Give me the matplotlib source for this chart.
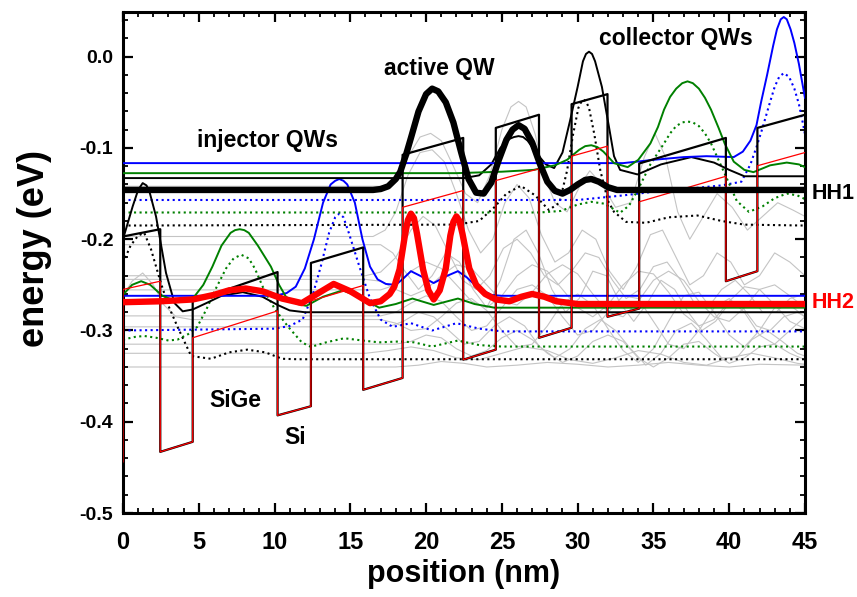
import matplotlib
matplotlib.use('Agg')
import matplotlib.pyplot as plt
from matplotlib.ticker import MultipleLocator

# ---- band edges (layer corners, nm / eV) ----
pot_x = [0, 0, 2.46, 2.46, 4.6, 4.6, 10.2, 10.2, 12.4, 12.4, 15.85, 15.85, 18.45, 18.45,
         22.45, 22.45, 24.6, 24.6, 27.45, 27.45, 29.6, 29.6, 31.97, 31.97, 34.06, 34.06,
         39.78, 39.78, 41.86, 41.86, 45]
hh_band = [-0.444, -0.197, -0.189, -0.433, -0.422, -0.268, -0.236, -0.393, -0.383, -0.226,
           -0.209, -0.365, -0.352, -0.1075, -0.089, -0.332, -0.321, -0.078, -0.0636, -0.308,
           -0.297, -0.052, -0.041, -0.285, -0.276, -0.117, -0.089, -0.246, -0.235, -0.078, -0.0636]
lh_band = [-0.444, -0.255, -0.246, -0.433, -0.422, -0.308, -0.2785, -0.393, -0.383, -0.2675,
           -0.2507, -0.365, -0.352, -0.165, -0.1466, -0.332, -0.321, -0.1357, -0.1228, -0.308,
           -0.297, -0.109, -0.098, -0.285, -0.276, -0.159, -0.131, -0.246, -0.235, -0.1195, -0.105]

# ---- HH1 / HH2 ----
hh1_x = [0, 16.5, 17.0, 17.5, 18.0, 18.3, 18.7, 19.0, 19.5, 20.0, 20.4, 20.8, 21.3, 21.8, 22.3,
         22.8, 23.3, 23.8, 24.3, 24.8, 25.3, 25.7, 26.1, 26.5, 27.0, 27.5, 28.0, 28.5, 29.0,
         29.5, 30.0, 30.5, 30.9, 31.4, 32.0, 32.6, 45]
hh1_e = [-0.146, -0.146, -0.145, -0.142, -0.134, -0.126, -0.106, -0.089, -0.060, -0.041, -0.035,
         -0.038, -0.050, -0.072, -0.104, -0.134, -0.149, -0.150, -0.138, -0.113, -0.091, -0.080,
         -0.075, -0.079, -0.094, -0.117, -0.137, -0.147, -0.150, -0.146, -0.140, -0.135, -0.134,
         -0.137, -0.143, -0.146, -0.146]

hh2_x = [0, 2.5, 4.6, 6.0, 7.0, 8.1, 9.2, 10.5, 11.8, 12.9, 13.9, 15.0, 16.3, 17.0, 17.6, 17.9,
         18.25, 18.6, 18.8, 19.0, 19.2, 19.4, 19.8, 20.15, 20.5, 20.9, 21.3, 21.6, 21.8, 22.0,
         22.2, 22.4, 22.85, 23.3, 23.9, 24.6, 25.5, 26.3, 27.0, 27.8, 28.6, 30.0, 45]
hh2_e = [-0.269, -0.268, -0.266, -0.261, -0.256, -0.254, -0.257, -0.265, -0.270, -0.259, -0.249,
         -0.257, -0.270, -0.268, -0.260, -0.252, -0.233, -0.196, -0.179, -0.172, -0.177, -0.194,
         -0.233, -0.256, -0.266, -0.256, -0.232, -0.196, -0.181, -0.175, -0.180, -0.194, -0.232,
         -0.250, -0.260, -0.266, -0.268, -0.263, -0.260, -0.263, -0.268, -0.271, -0.271]

# ---- injector states ----
binj_x = [0, 10.0, 10.8, 11.4, 12.0, 12.6, 13.2, 13.7, 14.0, 14.27, 14.55, 14.8, 15.3, 15.8, 16.3,
          16.8, 17.35, 18.0, 18.5, 19.0, 19.6, 20.5, 21.4, 22.1, 22.7, 23.4, 24.3, 25.0, 45]
binj_e = [-0.262, -0.262, -0.259, -0.252, -0.232, -0.200, -0.160, -0.140, -0.136, -0.134, -0.136,
          -0.140, -0.160, -0.200, -0.230, -0.244, -0.249, -0.250, -0.243, -0.235, -0.240, -0.248,
          -0.240, -0.235, -0.242, -0.253, -0.261, -0.262, -0.262]
bdinj_x = [0, 10.0, 11.0, 11.85, 12.5, 13.05, 13.6, 14.0, 14.27, 14.55, 14.9, 15.6, 16.3, 17.0,
           17.8, 19.0, 20.4, 22.0, 23.5, 25.0, 45]
bdinj_e = [-0.300, -0.298, -0.295, -0.288, -0.262, -0.230, -0.193, -0.176, -0.172, -0.176, -0.193,
           -0.230, -0.265, -0.288, -0.296, -0.292, -0.300, -0.292, -0.298, -0.301, -0.301]

ginj_x = [0, 0.6, 1.2, 1.8, 2.6, 3.7, 4.7, 5.3, 5.9, 6.5, 7.1, 7.4, 7.7, 8.0, 8.3, 8.9, 9.76, 10.3,
          10.75, 11.5, 12.1, 13.2, 14.5, 15.7, 16.9, 18.0, 19.1, 20.5, 22.1, 23.2, 24.5, 45]
ginj_e = [-0.261, -0.250, -0.246, -0.250, -0.262, -0.269, -0.263, -0.250, -0.230, -0.207, -0.193,
          -0.190, -0.189, -0.190, -0.193, -0.207, -0.230, -0.250, -0.263, -0.271, -0.273, -0.263,
          -0.256, -0.264, -0.275, -0.271, -0.265, -0.272, -0.265, -0.271, -0.275, -0.275]
gdinj_x = [0, 0.8, 1.4, 2.2, 3.0, 3.6, 4.3, 4.9, 5.5, 6.1, 6.8, 7.3, 7.8, 8.3, 8.7, 9.3, 10.0,
           10.9, 11.8, 12.4, 13.4, 14.6, 15.8, 16.9, 18.3, 19.2, 20.4, 22.1, 23.5, 25.0, 45]
gdinj_e = [-0.310, -0.307, -0.306, -0.308, -0.311, -0.310, -0.304, -0.296, -0.277, -0.255, -0.232,
           -0.221, -0.217, -0.221, -0.232, -0.255, -0.276, -0.296, -0.313, -0.318, -0.313, -0.3085,
           -0.311, -0.313, -0.312, -0.313, -0.3176, -0.311, -0.316, -0.3176, -0.3176]

kinj_x = [0, 0.64, 1.0, 1.3, 1.55, 1.75, 2.18, 2.5, 2.84, 3.4, 3.94, 4.6, 5.5, 6.5, 7.9, 9.2, 10.2,
          11.0, 12.0, 45]
kinj_e = [-0.200, -0.164, -0.146, -0.1385, -0.141, -0.148, -0.175, -0.205, -0.237, -0.270, -0.279,
          -0.277, -0.270, -0.262, -0.258, -0.263, -0.272, -0.278, -0.280, -0.280]
kdinj_x = [0, 0.5, 1.0, 1.4, 1.85, 2.5, 3.0, 3.6, 4.5, 5.8, 7.0, 8.2, 9.4, 10.5, 11.5, 45]
kdinj_e = [-0.226, -0.207, -0.196, -0.193, -0.211, -0.248, -0.273, -0.296, -0.328, -0.331, -0.324,
           -0.321, -0.324, -0.331, -0.3315, -0.3315]

# ---- collector states ----
bcol_x = [0, 33.0, 35.0, 37.0, 38.5, 40.3, 40.9, 41.4, 41.8, 42.1, 42.5, 42.9, 43.15, 43.4, 43.6,
          43.8, 44.05, 44.3, 44.6, 44.9, 45]
bcol_e = [-0.1166, -0.1166, -0.113, -0.110, -0.109, -0.110, -0.104, -0.092, -0.075, -0.050, -0.020,
          0.012, 0.030, 0.041, 0.0435, 0.041, 0.030, 0.015, -0.008, -0.036, -0.045]
bdcol_x = [0, 30.0, 33.0, 35.5, 37.7, 39.5, 40.8, 41.4, 41.8, 42.2, 42.6, 43.0, 43.3, 43.6, 43.95,
           44.3, 44.6, 44.9, 45]
bdcol_e = [-0.157, -0.157, -0.152, -0.147, -0.144, -0.141, -0.137, -0.118, -0.099, -0.078, -0.055,
           -0.033, -0.022, -0.018, -0.022, -0.035, -0.052, -0.076, -0.085]

gcol_x = [0, 22.0, 25.0, 27.1, 28.5, 29.3, 30.1, 30.5, 30.9, 31.3, 31.7, 32.4, 33.3, 34.0, 34.8,
          35.3, 35.7, 36.1, 36.5, 36.9, 37.25, 37.6, 38.0, 38.4, 38.8, 39.3, 39.7, 40.3, 41.0,
          41.6, 42.7, 43.8, 44.6, 45]
gcol_e = [-0.1276, -0.1276, -0.126, -0.124, -0.119, -0.113, -0.102, -0.098, -0.097, -0.099, -0.104,
          -0.1166, -0.121, -0.113, -0.095, -0.077, -0.058, -0.044, -0.035, -0.029, -0.027, -0.029,
          -0.035, -0.045, -0.058, -0.078, -0.095, -0.115, -0.124, -0.1265, -0.119, -0.116, -0.118,
          -0.121]
gdcol_x = [0, 27.5, 28.9, 30.0, 30.9, 31.75, 32.8, 33.4, 34.0, 34.8, 35.7, 36.1, 36.5, 36.9, 37.25,
           37.6, 38.0, 38.4, 38.8, 39.7, 40.5, 41.3, 42.2, 43.0, 43.8, 44.5, 45]
gdcol_e = [-0.1707, -0.1707, -0.169, -0.162, -0.159, -0.161, -0.171, -0.163, -0.145, -0.118, -0.095,
           -0.084, -0.076, -0.072, -0.071, -0.072, -0.076, -0.084, -0.095, -0.128, -0.158, -0.170,
           -0.164, -0.155, -0.150, -0.152, -0.156]

kcol_x = [0, 22.5, 23.5, 24.3, 24.9, 25.5, 25.8, 26.1, 26.4, 26.7, 27.3, 27.9, 28.45, 29.0, 29.5,
          30.0, 30.35, 30.55, 30.75, 30.95, 31.15, 31.6, 32.1, 32.4, 32.8, 33.95, 35.5, 37.5,
          39.0, 40.0, 41.0, 45]
kcol_e = [-0.133, -0.133, -0.130, -0.118, -0.100, -0.090, -0.088, -0.087, -0.088, -0.092, -0.106,
          -0.118, -0.122, -0.105, -0.070, -0.033, -0.005, 0.003, 0.0055, 0.003, -0.005, -0.033,
          -0.080, -0.109, -0.124, -0.129, -0.118, -0.110, -0.116, -0.124, -0.131, -0.131]
kdcol_x = [0, 22.0, 23.5, 24.5, 25.3, 26.25, 27.2, 28.1, 28.8, 29.3, 29.7, 30.05, 30.25, 30.4,
           30.55, 30.75, 31.1, 31.5, 32.0, 32.4, 33.2, 34.5, 36.0, 37.9, 39.5, 41.0, 45]
kdcol_e = [-0.185, -0.184, -0.180, -0.165, -0.150, -0.1415, -0.152, -0.168, -0.160, -0.125, -0.085,
           -0.056, -0.049, -0.047, -0.049, -0.056, -0.085, -0.125, -0.158, -0.170, -0.181, -0.182,
           -0.176, -0.174, -0.180, -0.184, -0.185]

# ---- remaining (grey) states ----
g1_x = [0, 17.3, 18.0, 18.8, 19.6, 20.3, 21.0, 21.8, 22.6, 23.4, 24.2, 25.0, 25.6, 26.1, 26.6, 27.2,
        27.8, 28.5, 29.3, 30.2, 30.8, 31.6, 32.5, 33.5, 34.4, 35.1, 35.8, 36.6, 37.4, 38.3, 39.2,
        40.2, 41.2, 42.2, 43.2, 44.2, 45]
g1_e = [-0.142, -0.142, -0.135, -0.110, -0.088, -0.084, -0.092, -0.120, -0.150, -0.160, -0.130,
        -0.080, -0.055, -0.049, -0.055, -0.085, -0.130, -0.160, -0.170, -0.140, -0.125, -0.140,
        -0.165, -0.160, -0.110, -0.084, -0.110, -0.170, -0.200, -0.175, -0.150, -0.165, -0.190,
        -0.175, -0.160, -0.168, -0.175]
g2_x = [0, 16.5, 17.3, 18.0, 18.8, 19.6, 20.4, 21.2, 22.0, 22.8, 23.6, 24.4, 25.2, 26.0, 26.8, 27.6,
        28.5, 29.4, 30.3, 31.2, 32.1, 33.0, 33.9, 34.8, 35.6, 36.5, 37.4, 38.3, 39.2, 40.1, 41.0,
        42.0, 43.0, 44.0, 45]
g2_e = [-0.197, -0.197, -0.190, -0.170, -0.130, -0.105, -0.102, -0.115, -0.150, -0.190, -0.215,
        -0.200, -0.160, -0.140, -0.155, -0.195, -0.225, -0.215, -0.190, -0.200, -0.235, -0.255,
        -0.230, -0.195, -0.190, -0.220, -0.250, -0.240, -0.215, -0.225, -0.250, -0.240, -0.215,
        -0.225, -0.240]
g3_x = [0, 17.0, 17.8, 18.6, 19.5, 20.4, 21.3, 22.2, 23.1, 24.0, 24.9, 25.8, 26.6, 27.4, 28.3, 29.2,
        30.1, 31.0, 31.9, 32.8, 33.7, 34.6, 35.5, 36.4, 37.3, 38.2, 39.1, 40.0, 40.9, 41.8, 42.7,
        43.6, 44.5, 45]
g3_e = [-0.206, -0.206, -0.215, -0.235, -0.255, -0.240, -0.215, -0.225, -0.255, -0.275, -0.245,
        -0.200, -0.190, -0.215, -0.255, -0.280, -0.265, -0.235, -0.240, -0.270, -0.290, -0.270,
        -0.245, -0.255, -0.280, -0.300, -0.290, -0.270, -0.275, -0.295, -0.300, -0.285, -0.280, -0.285]
g4_x = [0, 16.0, 17.0, 18.0, 19.0, 19.8, 20.6, 21.5, 22.4, 23.3, 24.2, 25.1, 26.0, 26.9, 27.8, 28.7,
        29.6, 30.5, 31.4, 32.3, 33.2, 34.1, 35.0, 35.9, 36.8, 37.7, 38.6, 39.5, 40.4, 41.3, 42.2,
        43.1, 44.0, 45]
g4_e = [-0.240, -0.240, -0.236, -0.220, -0.190, -0.175, -0.185, -0.215, -0.245, -0.255, -0.240,
        -0.210, -0.200, -0.215, -0.240, -0.250, -0.235, -0.215, -0.220, -0.245, -0.265, -0.255,
        -0.230, -0.225, -0.245, -0.270, -0.275, -0.255, -0.245, -0.260, -0.280, -0.280, -0.265, -0.260]
g5_x = [0, 16, 17, 18, 19, 20, 21, 22, 23, 24, 25, 26, 27, 28, 29, 30, 31, 32, 33, 34, 35, 36, 37,
        38, 39, 40, 41, 42, 43, 44, 45]
g5_e = [-0.244, -0.244, -0.246, -0.255, -0.262, -0.255, -0.240, -0.228, -0.232, -0.250, -0.268,
        -0.272, -0.258, -0.238, -0.228, -0.238, -0.260, -0.280, -0.285, -0.268, -0.245, -0.235,
        -0.245, -0.268, -0.285, -0.290, -0.275, -0.255, -0.250, -0.262, -0.275]
g6_x = [0, 17, 18, 19, 20, 21, 22, 23, 24, 25, 26, 27, 28, 29, 30, 31, 32, 33, 34, 35, 36, 37, 38,
        39, 40, 41, 42, 43, 44, 45]
g6_e = [-0.2555, -0.2555, -0.250, -0.235, -0.225, -0.232, -0.250, -0.268, -0.275, -0.262, -0.240,
        -0.228, -0.235, -0.255, -0.275, -0.285, -0.272, -0.250, -0.235, -0.238, -0.258, -0.282,
        -0.295, -0.288, -0.268, -0.252, -0.255, -0.272, -0.290, -0.298]
g7_x = [0, 17, 18, 19, 20, 21, 22, 23, 24, 25, 26, 27, 28, 29, 30, 31, 32, 33, 34, 35, 36, 37, 38,
        39, 40, 41, 42, 43, 44, 45]
g7_e = [-0.284, -0.284, -0.280, -0.270, -0.262, -0.268, -0.285, -0.300, -0.295, -0.275, -0.255,
        -0.250, -0.262, -0.285, -0.305, -0.300, -0.280, -0.262, -0.265, -0.290, -0.315, -0.320,
        -0.300, -0.275, -0.265, -0.280, -0.305, -0.315, -0.300, -0.285]
g8_x = [0, 0.6, 1.3, 2.0, 2.7, 3.5, 4.5, 17, 18, 19, 20, 21, 22, 23, 24, 25, 26, 27, 28, 29, 30,
        31, 32, 33, 34, 35, 36, 37, 38, 39, 40, 41, 42, 43, 44, 45]
g8_e = [-0.262, -0.246, -0.237, -0.250, -0.272, -0.285, -0.288, -0.288, -0.292, -0.300, -0.298,
        -0.285, -0.270, -0.265, -0.278, -0.300, -0.318, -0.315, -0.295, -0.270, -0.260, -0.272,
        -0.298, -0.322, -0.335, -0.320, -0.290, -0.262, -0.258, -0.280, -0.305, -0.318, -0.300,
        -0.275, -0.272, -0.285]
g9_x = [0, 17.5, 18.5, 19.5, 20.5, 21.5, 22.5, 23.5, 24.5, 25.5, 26.5, 27.5, 28.5, 29.5, 30.5,
        31.5, 32.5, 33.5, 34.5, 35.5, 36.5, 37.5, 38.5, 39.5, 40.5, 41.5, 42.5, 43.5, 44.5, 45]
g9_e = [-0.296, -0.296, -0.290, -0.280, -0.285, -0.300, -0.315, -0.312, -0.295, -0.285, -0.295,
        -0.318, -0.330, -0.320, -0.298, -0.288, -0.300, -0.320, -0.338, -0.325, -0.300, -0.292,
        -0.310, -0.330, -0.330, -0.310, -0.300, -0.312, -0.325, -0.328]
g10_x = [0, 18, 19, 20, 21, 22, 23, 24, 25, 26, 27, 28, 29, 30, 31, 32, 33, 34, 35, 36, 37, 38,
         39, 40, 41, 42, 43, 44, 45]
g10_e = [-0.315, -0.315, -0.312, -0.305, -0.308, -0.320, -0.328, -0.322, -0.308, -0.300, -0.310,
         -0.325, -0.335, -0.328, -0.312, -0.305, -0.312, -0.330, -0.340, -0.330, -0.315, -0.312,
         -0.325, -0.336, -0.330, -0.318, -0.315, -0.325, -0.332]
g11_x = [0, 16, 17.5, 19, 20.5, 22, 23.5, 25, 26.5, 28, 29.5, 31, 32.5, 34, 35.5, 37, 38.5, 40,
         41.5, 43, 44.5, 45]
g11_e = [-0.325, -0.325, -0.322, -0.318, -0.322, -0.330, -0.332, -0.325, -0.318, -0.322, -0.332,
         -0.336, -0.330, -0.322, -0.326, -0.335, -0.338, -0.330, -0.325, -0.330, -0.336, -0.337]
g12_x = [0, 18, 19.5, 21, 22.5, 24, 26, 28, 30, 32, 34, 36, 38, 40, 42, 45]
g12_e = [-0.340, -0.340, -0.338, -0.334, -0.336, -0.340, -0.338, -0.335, -0.337, -0.340, -0.338,
         -0.335, -0.338, -0.340, -0.337, -0.338]

grey_states = [(g1_x, g1_e), (g2_x, g2_e), (g3_x, g3_e), (g4_x, g4_e), (g5_x, g5_e),
               (g6_x, g6_e), (g7_x, g7_e), (g8_x, g8_e), (g9_x, g9_e), (g10_x, g10_e),
               (g11_x, g11_e), (g12_x, g12_e)]

plt.rcParams['font.family'] = ['Liberation Sans', 'DejaVu Sans']
plt.rcParams['font.weight'] = 'bold'
plt.rcParams['axes.labelweight'] = 'bold'
plt.rcParams['axes.unicode_minus'] = False

fig = plt.figure(figsize=(8.57, 5.97), dpi=100)
ax = fig.add_axes([0.1435, 0.1407, 0.7958, 0.8392])

grey = '#c4c4c4'
blue = '#0000ff'
green = '#008000'

for gx, ge in grey_states:
    ax.plot(gx, ge, color=grey, lw=0.8, zorder=1)

# dotted companions
ax.plot(kdinj_x, kdinj_e, color='black', ls=':', lw=1.5, zorder=2)
ax.plot(bdinj_x, bdinj_e, color=blue, ls=':', lw=1.5, zorder=2)
ax.plot(gdinj_x, gdinj_e, color=green, ls=':', lw=1.5, zorder=2)
ax.plot(kdcol_x, kdcol_e, color='black', ls=':', lw=1.5, zorder=2)
ax.plot(bdcol_x, bdcol_e, color=blue, ls=':', lw=1.5, zorder=2)
ax.plot(gdcol_x, gdcol_e, color=green, ls=':', lw=1.5, zorder=2)

# solid states
ax.plot(kinj_x, kinj_e, color='black', lw=1.4, zorder=3)
ax.plot(binj_x, binj_e, color=blue, lw=1.4, zorder=3)
ax.plot(ginj_x, ginj_e, color=green, lw=1.4, zorder=3)
ax.plot(kcol_x, kcol_e, color='black', lw=1.4, zorder=3)
ax.plot(bcol_x, bcol_e, color=blue, lw=1.4, zorder=3)
ax.plot(gcol_x, gcol_e, color=green, lw=1.4, zorder=3)

# valence band edges
ax.plot(pot_x, hh_band, color='black', lw=1.6, zorder=4)
ax.plot(pot_x, lh_band, color='red', lw=0.9, zorder=4.5)

ax.plot(hh2_x, hh2_e, color='red', lw=4.6, zorder=6, solid_capstyle='butt')
ax.plot(hh1_x, hh1_e, color='black', lw=4.6, zorder=7, solid_capstyle='butt')

ax.text(9.53, -0.0987, 'injector QWs', ha='center', va='baseline', fontsize=16.5)
ax.text(20.88, -0.0197, 'active QW', ha='center', va='baseline', fontsize=16.5)
ax.text(36.51, 0.0132, 'collector QWs', ha='center', va='baseline', fontsize=16.5)
ax.text(7.42, -0.3834, 'SiGe', ha='center', va='baseline', fontsize=16.5)
ax.text(11.38, -0.4243, 'Si', ha='center', va='baseline', fontsize=16.5)
ax.text(45.45, -0.156, 'HH1', ha='left', va='baseline', fontsize=15.5, clip_on=False)
ax.text(45.45, -0.2756, 'HH2', ha='left', va='baseline', fontsize=15.5, color='red', clip_on=False)

ax.set_xlim(0, 45)
ax.set_ylim(-0.5, 0.049)
ax.xaxis.set_major_locator(MultipleLocator(5))
ax.xaxis.set_minor_locator(MultipleLocator(1))
ax.yaxis.set_major_locator(MultipleLocator(0.1))
ax.yaxis.set_minor_locator(MultipleLocator(0.02))
ax.tick_params(which='both', direction='in', top=True, right=True)
ax.tick_params(which='major', length=7, width=1.6)
ax.tick_params(which='minor', length=3.5, width=1.3)
ax.tick_params(axis='x', pad=13, labelsize=17)
ax.tick_params(axis='y', pad=7, labelsize=14)
for sp in ax.spines.values():
    sp.set_linewidth(2.2)

ax.set_xlabel('position (nm)', fontsize=22, fontweight='bold')
ax.set_ylabel('energy (eV)', fontsize=26, fontweight='bold')
ax.xaxis.set_label_coords(0.5, -0.092)
ax.yaxis.set_label_coords(-0.104, 0.527)

fig.savefig('out.png', dpi=100)
